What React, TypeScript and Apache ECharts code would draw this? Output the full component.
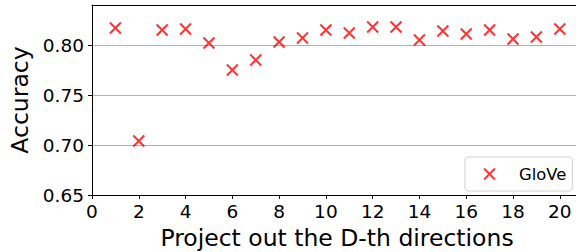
import React, { useEffect, useRef } from "react";
import * as echarts from "echarts";

const directions = [1, 2, 3, 4, 5, 6, 7, 8, 9, 10, 11, 12, 13, 14, 15, 16, 17, 18, 19, 20];
const accuracy = [0.817, 0.704, 0.815, 0.816, 0.802, 0.775, 0.785, 0.803, 0.807, 0.815,
  0.812, 0.818, 0.818, 0.805, 0.814, 0.811, 0.815, 0.806, 0.808, 0.816];
const seriesName = "GloVe";
const xTitle = "Project out the D-th directions";
const yTitle = "Accuracy";

const CROSS = "path://M0,0L10,10M10,0L0,10";
const FONT = "DejaVu Sans";

export default function App() {
  const ref = useRef<HTMLDivElement>(null);
  useEffect(() => {
    if (!ref.current) return;
    const chart = echarts.init(ref.current, null, { renderer: "svg" });
    const crossStyle = { color: "rgba(0,0,0,0)", borderColor: "#ff0000", borderWidth: 2 };
    chart.setOption({
      animation: false,
      backgroundColor: "#ffffff",
      textStyle: { fontFamily: FONT },
      grid: { left: 92, top: 5, right: -6, bottom: 57, containLabel: false, outerBoundsMode: "none" },
      legend: {
        left: 465,
        top: 157,
        orient: "vertical",
        backgroundColor: "#ffffff",
        borderColor: "#d0d0d0",
        borderWidth: 1,
        borderRadius: 3,
        padding: [9, 6, 9, 18],
        itemWidth: 11,
        itemHeight: 11,
        textStyle: { fontFamily: FONT, fontSize: 16.4, color: "#000", padding: [0, 0, 0, 19] },
        data: [{ name: seriesName, icon: CROSS, itemStyle: crossStyle }],
      },
      xAxis: [
        {
          type: "value",
          min: 0,
          max: 20.95,
          interval: 2,
          name: xTitle,
          nameLocation: "middle",
          nameGap: 30,
          nameTextStyle: { fontFamily: FONT, fontSize: 23.5, color: "#000" },
          axisLine: { show: true, lineStyle: { color: "#000", width: 1 } },
          axisTick: { show: true, length: 4, lineStyle: { color: "#000" } },
          axisLabel: {
            fontFamily: FONT, fontSize: 18.5, color: "#000", margin: 7,
            showMaxLabel: false,
            formatter: (v: number) => String(Math.round(v)),
          },
          splitLine: { show: false },
        },
        {
          type: "value",
          position: "top",
          min: 0,
          max: 20.95,
          axisLine: { show: true, lineStyle: { color: "#000", width: 1 } },
          axisTick: { show: false },
          axisLabel: { show: false },
          splitLine: { show: false },
        },
      ],
      yAxis: {
        type: "value",
        min: 0.65,
        max: 0.84,
        interval: 0.05,
        name: yTitle,
        nameLocation: "middle",
        nameRotate: 90,
        nameGap: 60,
        nameTextStyle: { fontFamily: FONT, fontSize: 23.5, color: "#000" },
        axisLine: { show: true, lineStyle: { color: "#000", width: 1 } },
        axisTick: { show: true, length: 4, lineStyle: { color: "#000" } },
        axisLabel: {
          fontFamily: FONT, fontSize: 18.5, color: "#000", margin: 8,
          showMaxLabel: false,
          formatter: (v: number) => v.toFixed(2),
        },
        splitLine: { show: true, lineStyle: { color: "#b0b0b0", width: 1 } },
      },
      series: [
        {
          name: seriesName,
          type: "scatter",
          symbol: CROSS,
          symbolSize: 11,
          itemStyle: crossStyle,
          data: directions.map((d, i) => [d, accuracy[i]]),
        },
      ],
    });
    return () => chart.dispose();
  }, []);
  return (
    <div
      ref={ref}
      style={{ position: "fixed", left: 0, top: 0, width: 576, height: 252 }}
    />
  );
}
